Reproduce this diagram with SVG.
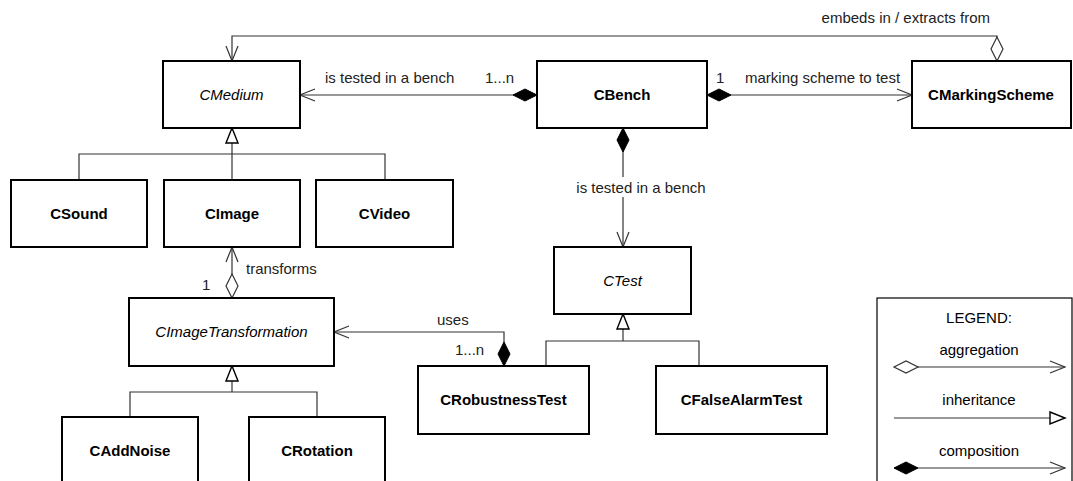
<svg xmlns="http://www.w3.org/2000/svg" width="1073" height="481" viewBox="0 0 1073 481">
<style>
text{font-family:"Liberation Sans",Arial,sans-serif;font-size:15px;fill:#000}
.box{fill:#fff;stroke:#000;stroke-width:2}
.name{text-anchor:middle;font-weight:bold}
.abs{text-anchor:middle;font-style:italic}
.c{fill:none;stroke:#333;stroke-width:1.2}
.lbl{fill:#222}
.mid{text-anchor:middle}
</style>
<defs>
<marker id="open" markerUnits="userSpaceOnUse" markerWidth="20" markerHeight="16" refX="15" refY="7" orient="auto" overflow="visible">
<path d="M0,1 L15,7 L0,13" fill="none" stroke="#333" stroke-width="1.2"/>
</marker>
<marker id="fdiam" markerUnits="userSpaceOnUse" markerWidth="26" markerHeight="14" refX="0" refY="6.5" orient="auto" overflow="visible">
<path d="M0,6.5 L12,0.5 L24,6.5 L12,12.5 Z" fill="#000" stroke="#000" stroke-width="1"/>
</marker>
<marker id="odiam" markerUnits="userSpaceOnUse" markerWidth="26" markerHeight="14" refX="0" refY="6.5" orient="auto" overflow="visible">
<path d="M0,6.5 L12,0.5 L24,6.5 L12,12.5 Z" fill="#fff" stroke="#333" stroke-width="1.2"/>
</marker>
<marker id="tri" markerUnits="userSpaceOnUse" markerWidth="18" markerHeight="14" refX="15" refY="6" orient="auto" overflow="visible">
<path d="M0,0 L15,6 L0,12 Z" fill="#fff" stroke="#000" stroke-width="1.4"/>
</marker>
</defs>

<g id="connectors">
<path class="c" d="M997,61 L997,36 L232,36 L232,61" marker-start="url(#odiam)" marker-end="url(#open)"/>
<text class="lbl" x="990" y="23" text-anchor="end">embeds in / extracts from</text>

<path class="c" d="M537,95 L300,95" marker-start="url(#fdiam)" marker-end="url(#open)"/>
<text class="lbl" x="325" y="83">is tested in a bench</text>
<text class="lbl" x="485" y="83">1...n</text>

<path class="c" d="M707,95 L912,95" marker-start="url(#fdiam)" marker-end="url(#open)"/>
<text class="lbl" x="716" y="83">1</text>
<text class="lbl" x="745" y="83">marking scheme to test</text>

<path class="c" d="M623,128 L623,247" marker-start="url(#fdiam)" marker-end="url(#open)"/>
<rect x="572" y="177" width="138" height="20" fill="#fff"/>
<text class="lbl mid" x="641" y="193">is tested in a bench</text>

<path class="c" d="M232,179 L232,128" marker-end="url(#tri)"/>
<path class="c" d="M79,179 L79,154 L385,154 L385,179"/>

<path class="c" d="M232,298 L232,247" marker-start="url(#odiam)" marker-end="url(#open)"/>
<text class="lbl" x="246" y="274">transforms</text>
<text class="lbl" x="202" y="290">1</text>

<path class="c" d="M232,392 L232,366" marker-end="url(#tri)"/>
<path class="c" d="M130,417 L130,392 L317,392 L317,417"/>

<path class="c" d="M504,366 L504,332 L334,332" marker-start="url(#fdiam)" marker-end="url(#open)"/>
<text class="lbl" x="437" y="325">uses</text>
<text class="lbl" x="455" y="355">1...n</text>

<path class="c" d="M623,341 L623,314" marker-end="url(#tri)"/>
<path class="c" d="M546,366 L546,341 L699,341 L699,366"/>
</g>

<g id="CMedium"><rect class="box" x="163" y="61" width="137" height="67"/><text class="abs" x="231.5" y="100">CMedium</text></g>
<g id="CBench"><rect class="box" x="537" y="61" width="170" height="67"/><text class="name" x="622" y="100">CBench</text></g>
<g id="CMarkingScheme"><rect class="box" x="912" y="61" width="159" height="67"/><text class="name" x="991" y="100">CMarkingScheme</text></g>
<g id="CSound"><rect class="box" x="11" y="180" width="136" height="67"/><text class="name" x="79" y="219">CSound</text></g>
<g id="CImage"><rect class="box" x="164" y="180" width="136" height="67"/><text class="name" x="232" y="219">CImage</text></g>
<g id="CVideo"><rect class="box" x="316" y="180" width="137" height="67"/><text class="name" x="384.5" y="219">CVideo</text></g>
<g id="CTest"><rect class="box" x="554" y="247" width="137" height="67"/><text class="abs" x="622.5" y="286">CTest</text></g>
<g id="CImageTransformation"><rect class="box" x="129" y="298" width="205" height="68"/><text class="abs" x="231.5" y="337">CImageTransformation</text></g>
<g id="CRobustnessTest"><rect class="box" x="418" y="366" width="171" height="68"/><text class="name" x="503.5" y="405">CRobustnessTest</text></g>
<g id="CFalseAlarmTest"><rect class="box" x="656" y="366" width="171" height="68"/><text class="name" x="741.5" y="405">CFalseAlarmTest</text></g>
<g id="CAddNoise"><rect class="box" x="62" y="417" width="136" height="68"/><text class="name" x="130" y="456">CAddNoise</text></g>
<g id="CRotation"><rect class="box" x="249" y="417" width="136" height="68"/><text class="name" x="317" y="456">CRotation</text></g>

<g id="legend">
<rect x="877" y="298" width="195" height="200" fill="#fff" stroke="#000" stroke-width="1.2"/>
<text class="mid" x="979" y="323">LEGEND:</text>
<text class="mid" x="979" y="355">aggregation</text>
<path class="c" d="M894,367 L1065,367" marker-start="url(#odiam)" marker-end="url(#open)"/>
<text class="mid" x="979" y="405">inheritance</text>
<path class="c" d="M894,418 L1065,418" marker-end="url(#tri)"/>
<text class="mid" x="979" y="456">composition</text>
<path class="c" d="M894,468 L1065,468" marker-start="url(#fdiam)" marker-end="url(#open)"/>
</g>
</svg>
